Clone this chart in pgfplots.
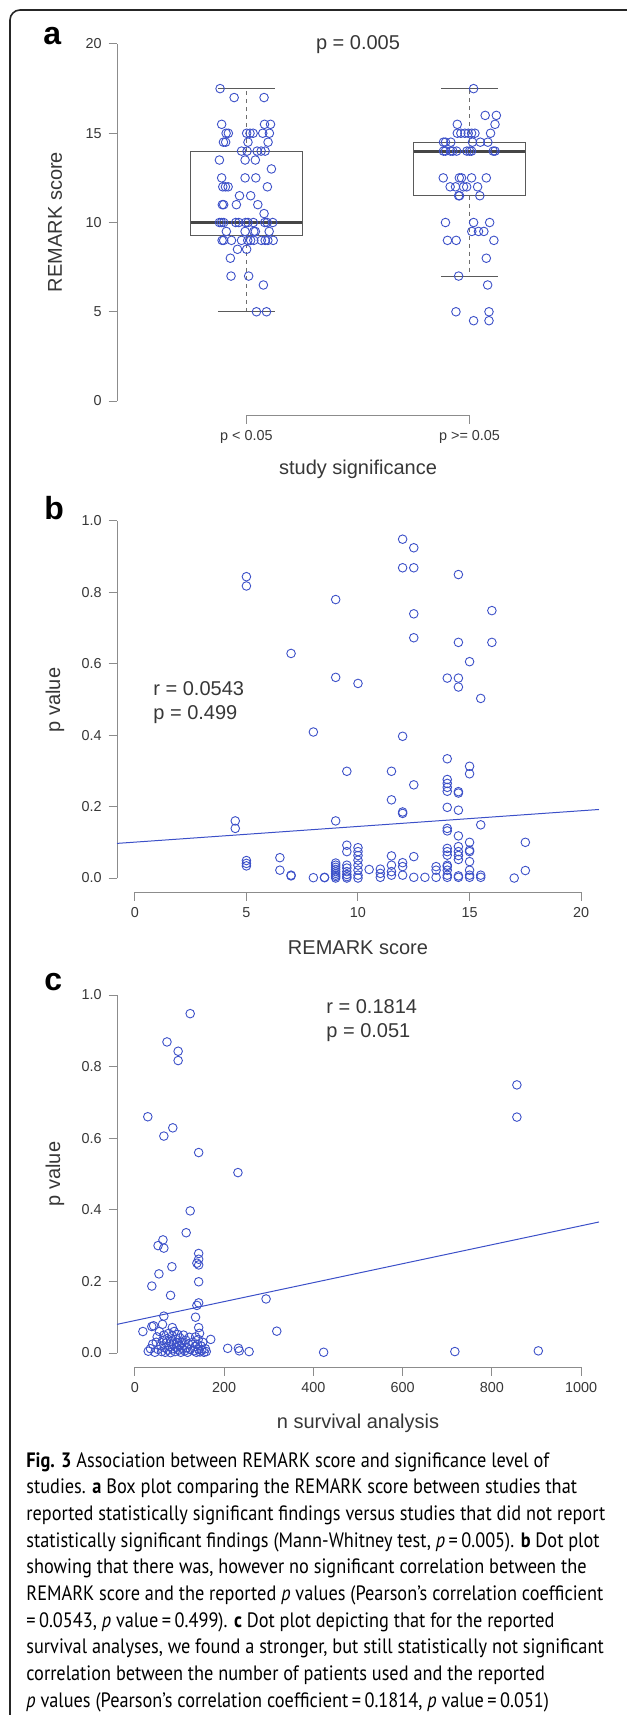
\documentclass[border=0pt]{standalone}
\usepackage{fontspec}
\setmainfont{Liberation Sans}
\newfontfamily\capfont[FakeStretch=0.88]{PT Sans}
\usepackage{pgfplots}
\pgfplotsset{compat=1.18}

\definecolor{rblue}{RGB}{60,80,200}
\definecolor{axgray}{RGB}{140,140,140}
\definecolor{txtgray}{RGB}{55,55,55}
\definecolor{boxc}{RGB}{90,90,90}
\definecolor{medc}{RGB}{70,70,70}
\definecolor{whc}{RGB}{110,110,110}

\pgfplotsset{
  rax/.style={
    scale only axis, width=241pt, anchor=south west,
    axis line style={draw=none},
    tick pos=left, tick align=outside,
    major tick length=4.2pt,
    tick style={axgray, line width=0.5pt},
    tick label style={font=\fontsize{7.2}{8}\selectfont, text=txtgray},
    /pgf/number format/assume math mode=true,
    scaled ticks=false,
    clip=false,
  },
  pts/.style={only marks, mark=o, mark size=2.15pt, rblue,
    mark options={line width=0.45pt}},
}
\tikzset{
  axln/.style={axgray, line width=0.5pt},
  lab/.style={font=\fontsize{10}{12}\selectfont, text=txtgray, inner sep=0pt},
}

\newcommand{\capline}[2]{\node[anchor=base west, inner sep=0pt] at (13pt,#1)
  {\capfont\fontsize{10.4}{12}\selectfont #2};}

\begin{document}
\begin{tikzpicture}
\useasboundingbox (0,0) rectangle (313.5pt,-857.5pt);
\draw[line width=0.8pt, black!85, rounded corners=5pt]
  (313.5pt,-5pt) -- (5pt,-5pt) -- (5pt,-857.5pt);

% ---- panel a: box plot
\begin{axis}[rax, at={(58.5pt,-207.65pt)}, height=192.8pt,
  xmin=0.42, xmax=2.58, ymin=-0.8, ymax=20.8,
  xtick={1,2}, xticklabels={p < 0.05, p >= 0.05},
  ytick={0,5,10,15,20}]
\draw[axln] (axis cs:0.42,0) -- (axis cs:0.42,20);
\draw[axln] (axis cs:1,-0.8) -- (axis cs:2,-0.8);
% group 1
\addplot[boxc, line width=0.5pt] coordinates {(0.75,9.25)(1.25,9.25)(1.25,14)(0.75,14)} -- cycle;
\addplot[medc, line width=1.6pt] coordinates {(0.75,10)(1.25,10)};
\addplot[whc, line width=0.5pt, dash pattern=on 2pt off 2pt] coordinates {(1,14)(1,17.5)};
\addplot[whc, line width=0.5pt, dash pattern=on 2pt off 2pt] coordinates {(1,9.25)(1,5)};
\addplot[boxc, line width=0.5pt] coordinates {(0.872,17.5)(1.128,17.5)};
\addplot[boxc, line width=0.5pt] coordinates {(0.872,5)(1.128,5)};
% group 2
\addplot[boxc, line width=0.5pt] coordinates {(1.75,11.5)(2.25,11.5)(2.25,14.5)(1.75,14.5)} -- cycle;
\addplot[medc, line width=1.6pt] coordinates {(1.75,14)(2.25,14)};
\addplot[whc, line width=0.5pt, dash pattern=on 2pt off 2pt] coordinates {(2,14.5)(2,17.5)};
\addplot[whc, line width=0.5pt, dash pattern=on 2pt off 2pt] coordinates {(2,11.5)(2,7)};
\addplot[boxc, line width=0.5pt] coordinates {(1.872,17.5)(2.128,17.5)};
\addplot[boxc, line width=0.5pt] coordinates {(1.872,7)(2.128,7)};
% jittered points, p < 0.05
\addplot[pts] coordinates {
(0.882,17.5)
(0.945,17)(1.079,17)
(0.889,15.5)(1.081,15.5)(1.108,15.5)
(0.909,15)(0.919,15)(1.001,15)(1.016,15)(1.030,15)(1.073,15)(1.103,15)
(0.897,14.5)(0.907,14.5)(1.007,14.5)(1.097,14.5)
(0.978,14)(1.003,14)(1.048,14)(1.066,14)(1.084,14)
(0.879,13.5)(0.994,13.5)(1.040,13.5)
(1.112,13)
(0.889,12.5)(0.994,12.5)(1.042,12.5)
(0.894,12)(0.906,12)(0.918,12)(1.094,12)
(0.969,11.5)(1.019,11.5)
(0.892,11)(0.898,11)(0.955,11)(1.051,11)
(1.079,10.5)
(0.879,10)(0.888,10)(0.898,10)(0.952,10)(0.966,10)(0.996,10)(1.007,10)(1.031,10)(1.082,10)(1.093,10)(1.118,10)
(0.910,9.5)(0.994,9.5)(1.033,9.5)(1.040,9.5)(1.102,9.5)
(0.891,9)(0.898,9)(0.933,9)(0.978,9)(1.006,9)(1.019,9)(1.033,9)(1.067,9)(1.084,9)(1.096,9)(1.120,9)
(0.960,8.5)(1.001,8.5)
(0.928,8)
(0.931,7)(1.010,7)
(1.076,6.5)
(1.045,5)(1.090,5)};
% jittered points, p >= 0.05
\addplot[pts] coordinates {
(2.018,17.5)
(2.070,16)(2.120,16)
(1.945,15.5)(2.114,15.5)
(1.945,15)(1.961,15)(1.979,15)(1.994,15)(2.009,15)(2.024,15)(2.094,15)
(1.883,14.5)(1.892,14.5)(1.916,14.5)(2.013,14.5)(2.048,14.5)(2.082,14.5)
(1.883,14)(1.892,14)(1.915,14)(1.925,14)(1.942,14)(1.988,14)(2.000,14)(2.009,14)(2.106,14)(2.114,14)
(1.882,12.5)(1.954,12.5)(1.964,12.5)(2.009,12.5)(2.075,12.5)
(1.913,12)(1.937,12)(1.973,12)(1.987,12)(2.036,12)
(1.951,11.5)(1.955,11.5)(2.046,11.5)
(1.892,10)(2.018,10)(2.090,10)
(2.010,9.5)(2.040,9.5)(2.064,9.5)
(1.901,9)(1.940,9)(2.109,9)
(2.075,8)
(1.951,7)
(2.081,6.5)
(1.939,5)(2.087,5)
(2.018,4.5)(2.087,4.5)};
\end{axis}

% ---- panel b: REMARK score vs p value
\begin{axis}[rax, at={(58.5pt,-446.15pt)}, height=192.8pt,
  xmin=-0.8, xmax=20.8, ymin=-0.04, ymax=1.04,
  xtick={0,5,10,15,20},
  ytick={0,0.2,0.4,0.6,0.8,1}, yticklabels={0.0,0.2,0.4,0.6,0.8,1.0}]
\draw[axln] (axis cs:-0.8,0) -- (axis cs:-0.8,1);
\draw[axln] (axis cs:0,-0.04) -- (axis cs:20,-0.04);
\addplot[pts] coordinates {
(5,0.844)(5,0.818)
(12,0.949)(12.5,0.925)(12,0.869)(12.5,0.869)
(14.5,0.850)(9,0.780)(12.5,0.740)(16,0.749)(12.5,0.673)(14.5,0.660)(16,0.660)
(7,0.629)(15,0.606)(9,0.562)(10,0.545)(14,0.560)(14.5,0.560)(14.5,0.535)(15.5,0.503)
(8,0.409)(12,0.397)(14,0.334)(15,0.313)(15,0.292)(9.5,0.299)(11.5,0.299)(12.5,0.261)
(14,0.276)(14,0.265)(14,0.254)(14,0.243)(14.5,0.242)(14.5,0.238)
(11.5,0.219)(12,0.185)(12,0.181)(14,0.198)(14.5,0.190)
(4.5,0.160)(4.5,0.139)(9,0.160)(15.5,0.149)(14,0.139)(14,0.132)(14.5,0.118)(15,0.100)(17.5,0.100)
(5,0.049)(5,0.041)(5,0.034)
(6.5,0.057)(6.5,0.022)
(7,0.008)(7,0.006)
(8,0.001)
(8.5,0.001)(8.5,0.002)
(9,0.000)(9,0.004)(9,0.008)(9,0.013)(9,0.018)(9,0.024)(9,0.030)(9,0.036)(9,0.042)
(9.5,0.092)(9.5,0.074)(9.5,0.036)(9.5,0.028)(9.5,0.018)(9.5,0.010)(9.5,0.004)(9.5,0.000)
(10,0.085)(10,0.074)(10,0.063)(10,0.050)(10,0.036)(10,0.022)(10,0.008)(10,0.000)
(10.5,0.024)
(11,0.025)(11,0.013)(11,0.002)
(11.5,0.062)(11.5,0.036)(11.5,0.018)(11.5,0.008)
(12,0.043)(12,0.032)(12,0.008)
(12.5,0.060)(12.5,0.002)
(13,0.002)
(13.5,0.032)(13.5,0.022)(13.5,0.002)
(14,0.083)(14,0.074)(14,0.064)(14,0.036)(14,0.032)(14,0.022)(14,0.008)(14,0.002)
(14.5,0.088)(14.5,0.074)(14.5,0.063)(14.5,0.052)(14.5,0.006)(14.5,0.002)
(15,0.078)(15,0.074)(15,0.046)(15,0.022)(15,0.008)(15,0.002)
(15.5,0.008)(15.5,0.002)
(17,0.000)(17.5,0.021)};
\addplot[rblue, line width=0.5pt] coordinates {(-0.8,0.097)(20.8,0.192)};
\end{axis}

% ---- panel c: n survival analysis vs p value
\begin{axis}[rax, at={(58.5pt,-683.65pt)}, height=193.3pt,
  xmin=-40, xmax=1040, ymin=-0.04, ymax=1.04,
  xtick={0,200,400,600,800,1000}, xticklabels={0,200,400,600,800,1000},
  ytick={0,0.2,0.4,0.6,0.8,1}, yticklabels={0.0,0.2,0.4,0.6,0.8,1.0}]
\draw[axln] (axis cs:-40,0) -- (axis cs:-40,1);
\draw[axln] (axis cs:0,-0.04) -- (axis cs:1000,-0.04);
\addplot[pts] coordinates {
(124,0.948)(72,0.869)(97,0.843)(97,0.817)(29,0.660)(85,0.629)(65,0.606)(143,0.560)(231,0.504)(856,0.749)(856,0.659)
(124,0.397)(115,0.336)(63,0.316)(52,0.300)(65,0.293)(143,0.278)(143,0.262)(139,0.251)(143,0.246)(83,0.241)(54,0.221)
(38,0.187)(143,0.199)(80,0.161)(294,0.151)(143,0.140)(139,0.133)(65,0.103)(136,0.100)(318,0.061)(143,0.071)
(18,0.060)(38,0.074)(42,0.076)(62,0.080)(84,0.071)
(423,0.002)(717,0.004)(904,0.006)(208,0.013)(232,0.013)(234,0.006)(256,0.004)(170,0.038)
(30,0.005)(35,0.012)(40,0.025)(45,0.002)(48,0.030)(50,0.045)(52,0.010)(55,0.060)(58,0.020)(60,0.004)
(62,0.035)(65,0.050)(66,0.015)(68,0.002)(70,0.028)(72,0.040)(74,0.008)(76,0.055)(78,0.018)(80,0.001)
(82,0.032)(84,0.048)(85,0.012)(87,0.024)(88,0.060)(90,0.004)(92,0.038)(93,0.016)(95,0.028)(96,0.052)
(98,0.008)(100,0.020)(101,0.042)(103,0.002)(105,0.030)(107,0.012)(109,0.050)(110,0.022)(112,0.006)(114,0.036)
(116,0.015)(118,0.002)(120,0.026)(122,0.044)(124,0.010)
(130,0.030)(132,0.006)(135,0.018)(136,0.045)(138,0.002)(140,0.024)(142,0.038)(143,0.010)(145,0.055)(146,0.003)
(148,0.020)(150,0.008)(152,0.030)(155,0.002)(158,0.012)(160,0.004)};
\addplot[rblue, line width=0.5pt] coordinates {(-40,0.080)(1040,0.366)};
\end{axis}

% ---- panel letters, labels and annotations
\node[anchor=base west, inner sep=0pt, font=\fontsize{16}{18}\selectfont\bfseries] at (21.5pt,-22pt) {a};
\node[anchor=base west, inner sep=0pt, font=\fontsize{16}{18}\selectfont\bfseries] at (22pt,-259.5pt) {b};
\node[anchor=base west, inner sep=0pt, font=\fontsize{16}{18}\selectfont\bfseries] at (22pt,-495pt) {c};
\node[lab, anchor=base] at (179pt,-24.5pt) {p = 0.005};
\node[lab, rotate=90] at (27.5pt,-111pt) {REMARK score};
\node[lab, rotate=90] at (27.5pt,-350pt) {p value};
\node[lab, rotate=90] at (27.5pt,-587pt) {p value};
\node[lab, anchor=base] at (179pt,-237pt) {study significance};
\node[lab, anchor=base] at (179pt,-477pt) {REMARK score};
\node[lab, anchor=base] at (179pt,-714pt) {n survival analysis};
\node[lab, anchor=base west] at (76.5pt,-347.5pt) {r = 0.0543};
\node[lab, anchor=base west] at (76.5pt,-359.5pt) {p = 0.499};
\node[lab, anchor=base west] at (163pt,-506.5pt) {r = 0.1814};
\node[lab, anchor=base west] at (163pt,-518.5pt) {p = 0.051};

% ---- caption
\capline{-733.5pt}{\textbf{Fig. 3}\ Association between REMARK score and significance level of}
\capline{-746.83pt}{studies. \textbf{a} Box plot comparing the REMARK score between studies that}
\capline{-760.17pt}{reported statistically significant findings versus studies that did not report}
\capline{-773.5pt}{statistically significant findings (Mann-Whitney test, \textit{p}\,=\,0.005). \textbf{b} Dot plot}
\capline{-786.83pt}{showing that there was, however no significant correlation between the}
\capline{-800.17pt}{REMARK score and the reported \textit{p} values (Pearson’s correlation coefficient}
\capline{-813.5pt}{=\,0.0543, \textit{p} value\,=\,0.499). \textbf{c} Dot plot depicting that for the reported}
\capline{-826.83pt}{survival analyses, we found a stronger, but still statistically not significant}
\capline{-840.17pt}{correlation between the number of patients used and the reported}
\capline{-853.5pt}{\textit{p} values (Pearson’s correlation coefficient\,=\,0.1814, \textit{p} value\,=\,0.051)}
\end{tikzpicture}
\end{document}
